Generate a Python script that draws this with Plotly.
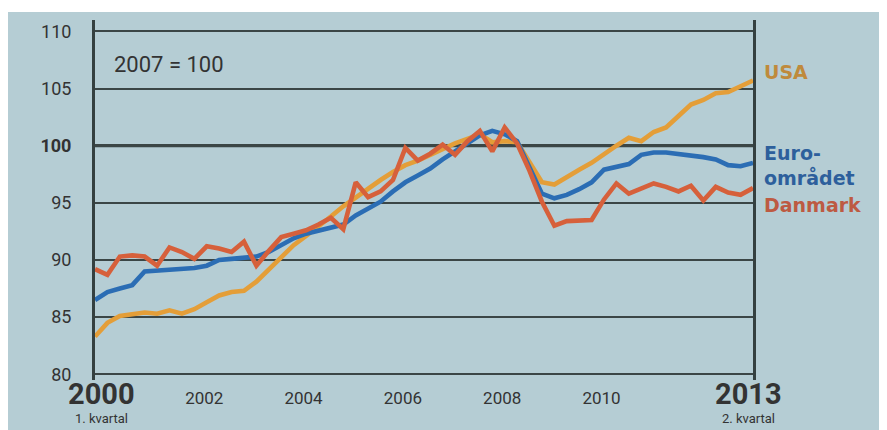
import plotly.graph_objects as go

# Quarterly index, 2007 = 100, from 2000 Q1 to 2013 Q2
start_year = 2000
quarters = 54

usa = [83.3, 84.5, 85.1, 85.3, 85.4, 85.3, 85.6, 85.3, 85.7, 86.3,
       86.9, 87.2, 87.3, 88.1, 89.2, 90.3, 91.3, 92.1, 92.9, 93.8,
       94.7, 95.5, 96.3, 97.0, 97.7, 98.3, 98.7, 99.2, 99.8, 100.2,
       100.6, 101.0, 100.3, 100.4, 100.3, 98.5, 96.8, 96.6, 97.3, 97.9,
       98.5, 99.3, 100.0, 100.7, 100.4, 101.2, 101.6, 102.6, 103.6, 104.0,
       104.6, 104.7, 105.2, 105.7]

euro = [86.5, 87.2, 87.5, 87.8, 89.0, 89.1, 89.1, 89.2, 89.3, 89.5,
        90.0, 90.1, 90.2, 90.3, 90.7, 91.3, 91.9, 92.3, 92.6, 92.8,
        93.1, 93.9, 94.5, 95.1, 96.0, 96.8, 97.4, 98.0, 98.8, 99.5,
        100.1, 100.9, 101.3, 101.0, 100.4, 98.0, 95.8, 95.4, 95.7, 96.2,
        96.8, 97.9, 98.1, 98.4, 99.2, 99.4, 99.4, 99.3, 99.1, 99.0,
        98.8, 98.3, 98.2, 98.5]

danmark = [89.2, 88.7, 90.3, 90.4, 90.3, 89.5, 91.1, 90.7, 90.1, 91.2,
           91.0, 90.7, 91.6, 89.5, 90.8, 92.0, 92.3, 92.6, 93.1, 93.7,
           92.7, 96.8, 95.5, 96.0, 97.0, 99.8, 98.7, 99.3, 100.1, 99.2,
           100.4, 101.3, 99.5, 101.6, 100.2, 97.8, 95.1, 93.0, 93.4, 93.4,
           93.5, 95.3, 96.7, 95.8, 96.3, 96.7, 96.4, 96.0, 96.5, 95.2,
           96.4, 95.9, 95.7, 96.3]

series_names = ["USA", "Euro-området", "Danmark"]
label_texts = ["USA", "Euro-<br>området", "Danmark"]
y_ticks = [80, 85, 90, 95, 100, 105, 110]
y_ticktext = ["80", "85", "90", "95", "<b>100</b>", "105", "110"]
x_years = [2002, 2004, 2006, 2008, 2010]
end_labels = [("2000", "1. kvartal"), ("2013", "2. kvartal")]
base_text = "2007 = 100"

x = [start_year + i / 4 for i in range(quarters)]
x_end = x[-1]

BG = "#b5cdd4"
GRID = "#3b4646"
line_colors = ["#e49e38", "#2b6db4", "#d6603b"]
label_colors = ["#bf8a3c", "#2d5f9c", "#bd5a42"]

fig = go.Figure()
for name, vals, col in zip(series_names, [usa, euro, danmark], line_colors):
    fig.add_trace(go.Scatter(x=x, y=vals, mode="lines", name=name,
                             line=dict(color=col, width=4.6),
                             showlegend=False, hoverinfo="skip"))

# page body adds an 8px white margin at top/left
W, H = 879, 422
L, R, T, B = 87, 134, 12, 50
pw, ph = W - L - R, H - T - B

fig.update_layout(
    width=W, height=H,
    margin=dict(l=L, r=R, t=T, b=B),
    paper_bgcolor=BG, plot_bgcolor=BG,
    font=dict(family="Roboto, Arial, sans-serif", color="#333"),
    xaxis=dict(range=[start_year, x_end], showgrid=False, zeroline=False,
               tickvals=[yv + 0.2 for yv in x_years],
               ticktext=[str(yv) for yv in x_years],
               tickfont=dict(size=17, color="#333"), ticks="",
               ticklabelstandoff=6, showline=False),
    yaxis=dict(range=[79.5, 111], tickvals=y_ticks, ticktext=y_ticktext,
               showgrid=True, gridcolor=GRID, gridwidth=1.6, zeroline=False,
               tickfont=dict(size=18, color="#333"), ticks="",
               ticklabelstandoff=17,
               showline=True, mirror=True, linecolor="#344040", linewidth=3),
)

# thicker 100 line
fig.add_shape(type="line", xref="x", yref="y", x0=start_year, x1=x_end, y0=100, y1=100,
              line=dict(color=GRID, width=3.2), layer="below")

# extra white strip at the top of the scan
fig.add_shape(type="rect", xref="paper", yref="paper",
              x0=-L / pw - 0.01, x1=1 + R / pw + 0.01, y0=1 + (T - 4) / ph, y1=1 + T / ph + 0.01,
              fillcolor="white", line=dict(width=0), layer="below")

# base annotation
fig.add_annotation(x=start_year + 0.34, y=107.1, xref="x", yref="y", text=base_text,
                   showarrow=False, xanchor="left", yanchor="middle",
                   font=dict(size=22, color="#333"))

# end labels on x axis
for (yr, sub), xpos in zip(end_labels, [start_year + 0.14, x_end - 0.1]):
    fig.add_annotation(x=xpos, y=0, xref="x", yref="paper", yshift=-14, text=f"<b>{yr}</b>",
                       showarrow=False, xanchor="center", yanchor="middle",
                       font=dict(size=29, color="#333"))
    fig.add_annotation(x=xpos, y=0, xref="x", yref="paper", yshift=-38, text=sub,
                       showarrow=False, xanchor="center", yanchor="middle",
                       font=dict(size=13, color="#333"))

# series labels at right
label_y = [106.45, 98.25, 94.8]
for txt, yv, col in zip(label_texts, label_y, label_colors):
    fig.add_annotation(x=1 + 10 / pw, y=yv, xref="paper", yref="y", text=f"<b>{txt}</b>",
                       showarrow=False, xanchor="left", yanchor="middle", align="left",
                       borderpad=0,
                       font=dict(size=19, color=col, family="DejaVu Sans, Arial, sans-serif"))

fig.write_html("out.html")
